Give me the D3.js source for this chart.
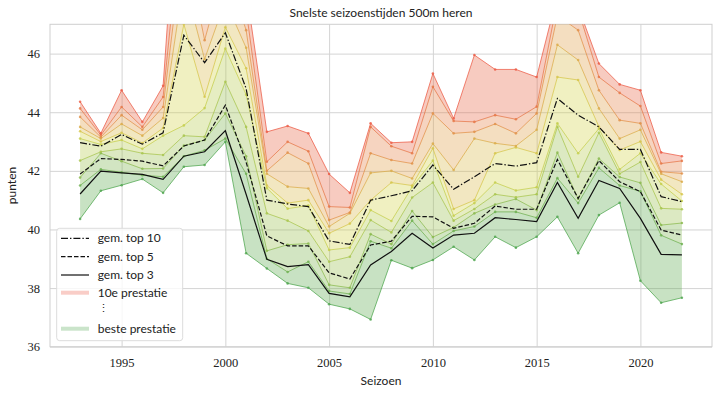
<!DOCTYPE html>
<html>
<head>
<meta charset="utf-8">
<script src="https://cdn.jsdelivr.net/npm/d3@7"></script>
<style>
  body { margin: 0; background: #fff; }
  svg text { fill: #222; }
  .lbl { font-family: Lato, sans-serif; font-size: 12px; }
</style>
</head>
<body>
<div id="chart"></div>
<script>
// seasons
var years = d3.range(1993, 2023);

// season times per rank, best (p1) .. 10th (p10)
var p1  = [40.36,41.32,41.51,41.72,41.25,42.14,42.20,42.99,39.19,38.67,38.16,38.01,37.45,37.29,36.93,38.95,38.68,38.96,39.41,38.96,39.75,39.38,39.75,40.43,39.19,40.49,40.91,38.25,37.50,37.67];
var p2  = [41.50,42.05,41.95,41.85,41.80,42.50,42.70,43.10,41.90,39.00,38.55,38.90,37.90,37.80,39.60,39.36,40.30,39.50,39.95,40.10,40.60,40.60,40.40,41.75,40.90,42.10,41.50,41.30,39.80,39.50];
var p3  = [41.77,42.60,42.33,42.07,42.08,42.86,43.05,43.96,42.50,39.27,39.48,39.52,38.11,38.01,39.84,39.50,40.63,39.74,40.07,40.55,40.85,41.04,40.66,42.62,41.05,42.42,41.79,41.59,40.15,40.22];
var p4  = [42.35,42.65,42.75,42.60,42.54,43.20,43.16,45.04,43.50,40.55,40.30,39.95,38.90,39.07,40.32,39.90,41.09,41.60,40.30,40.70,41.20,41.10,41.20,43.50,41.80,43.30,41.90,42.30,40.72,40.69];
var p5  = [43.10,42.90,43.05,42.75,43.20,43.55,44.14,46.17,44.60,41.41,40.71,40.82,39.30,39.38,40.66,40.29,41.45,42.35,40.47,40.90,41.60,41.33,41.44,43.62,42.60,43.44,42.05,42.60,41.55,40.97];
var p6  = [43.35,43.00,43.30,42.95,43.46,47.00,44.53,46.90,45.50,41.50,40.90,41.00,39.87,40.20,41.00,41.60,41.50,42.77,40.70,41.00,42.60,42.80,42.60,45.20,45.10,43.51,42.71,43.00,41.70,41.20];
var p7  = [43.50,43.10,43.60,43.20,43.80,48.50,45.81,47.80,46.20,41.90,41.46,41.40,40.10,40.55,41.93,42.00,41.74,42.93,42.03,43.10,42.94,42.85,43.40,46.30,45.78,44.13,43.10,43.40,41.90,41.63];
var p8  = [43.84,43.15,43.90,43.40,44.18,50.00,46.46,49.00,46.80,42.00,42.62,42.25,40.32,40.58,42.60,42.37,42.25,43.96,43.28,43.33,43.60,43.28,43.96,47.30,46.80,44.75,43.73,43.62,41.97,41.91];
var p9  = [44.13,43.22,44.18,43.50,44.52,51.50,51.00,50.50,47.50,42.31,42.99,42.67,40.78,40.75,43.50,42.84,42.60,44.87,43.70,43.67,43.90,43.76,44.19,47.80,47.50,45.20,44.66,44.21,42.25,42.34];
var p10 = [44.36,43.28,44.75,43.67,44.90,55.05,53.85,51.70,48.20,43.33,43.53,43.28,41.89,41.25,43.62,42.96,42.99,45.32,43.79,45.95,45.46,45.46,45.20,48.00,47.60,45.66,44.95,44.75,42.63,42.50];
var ranks = [p1, p2, p3, p4, p5, p6, p7, p8, p9, p10];

// averages of the top 10 / 5 / 3
var top10 = [42.96,42.84,43.24,42.91,43.30,46.63,45.69,46.71,44.81,41.00,40.87,40.78,39.61,39.49,41.00,41.15,41.32,42.20,41.37,41.80,42.25,42.16,42.28,44.47,43.90,43.50,42.73,42.73,41.12,40.95];
var top5  = [41.89,42.42,42.39,42.33,42.17,42.85,43.05,44.24,42.30,39.78,39.44,39.44,38.52,38.31,39.47,39.60,40.45,40.43,40.04,40.21,40.80,40.69,40.69,42.39,41.06,42.35,41.63,41.29,39.98,39.81];
var top3  = [41.21,41.99,41.93,41.88,41.71,42.50,42.65,43.37,41.20,38.98,38.73,38.80,37.82,37.70,38.79,39.25,39.87,39.37,39.81,39.87,40.40,40.34,40.27,41.60,40.38,41.67,41.40,40.38,39.15,39.13];

var xTicks = [1995, 2000, 2005, 2010, 2015, 2020];
var yTicks = [36, 38, 40, 42, 44, 46];

var W = 720, H = 396;
var margin = { top: 24.3, right: 8, bottom: 49.3, left: 50 };
var width = W - margin.left - margin.right;
var height = H - margin.top - margin.bottom;

var svg = d3.select("#chart").append("svg")
  .attr("width", W)
  .attr("height", H);

var g = svg.append("g")
  .attr("transform", "translate(" + margin.left + "," + margin.top + ")");

var x = d3.scaleLinear()
  .domain([1993 - 1.45, 2022 + 1.45])
  .range([0, width]);

var y = d3.scaleLinear()
  .domain([36, 47])
  .range([height, 0]);

// green (best) -> yellow -> red (10th)
var colour = d3.scaleLinear()
  .domain([0, 4.5, 9])
  .range(["#4ea54e", "#d3d34a", "#ec5a44"])
  .interpolate(d3.interpolateRgb);

// grid
var xAxis = d3.axisBottom(x).tickValues(xTicks).tickFormat(d3.format("d")).tickSize(-height).tickPadding(11);
var yAxis = d3.axisLeft(y).tickValues(yTicks).tickSize(-width).tickPadding(10);

var gx = g.append("g")
  .attr("transform", "translate(0," + height + ")")
  .call(xAxis);
var gy = g.append("g").call(yAxis);
[gx, gy].forEach(function(a) {
  a.select(".domain").remove();
  a.selectAll(".tick line").attr("stroke", "#d4d4d4").attr("stroke-width", 1);
  a.selectAll(".tick text")
    .attr("font-family", "'Liberation Serif', 'DejaVu Serif', serif")
    .attr("font-size", 12.5)
    .attr("fill", "#333");
});

g.append("rect")
  .attr("width", width)
  .attr("height", height)
  .attr("fill", "none")
  .attr("stroke", "#cfcfcf")
  .attr("stroke-width", 1);

g.append("clipPath").attr("id", "plotclip")
  .append("rect").attr("width", width).attr("height", height);

var plot = g.append("g").attr("clip-path", "url(#plotclip)");

// bands between consecutive ranks
for (var i = 0; i < 9; i++) {
  var lo = ranks[i], hi = ranks[i + 1];
  var area = d3.area()
    .x(function(d, j) { return x(years[j]); })
    .y0(function(d, j) { return y(lo[j]); })
    .y1(function(d, j) { return y(hi[j]); });
  plot.append("path")
    .datum(years)
    .attr("d", area)
    .attr("fill", colour(i + 0.5))
    .attr("fill-opacity", 0.34);
}

// rank lines + small markers
ranks.forEach(function(r, i) {
  var line = d3.line()
    .x(function(d, j) { return x(years[j]); })
    .y(function(d) { return y(d); });
  plot.append("path")
    .datum(r)
    .attr("d", line)
    .attr("fill", "none")
    .attr("stroke", colour(i))
    .attr("stroke-opacity", 0.75)
    .attr("stroke-width", 1);
  plot.selectAll(null)
    .data(r)
    .enter()
    .append("circle")
    .attr("cx", function(d, j) { return x(years[j]); })
    .attr("cy", function(d) { return y(d); })
    .attr("r", 1.3)
    .attr("fill", colour(i))
    .attr("fill-opacity", 0.8);
});

// average lines
var avgLines = [
  { data: top10, dash: "7,2,1.4,2", label: "gem. top 10" },
  { data: top5, dash: "4.5,2", label: "gem. top 5" },
  { data: top3, dash: null, label: "gem. top 3" }
];
var avgLine = d3.line()
  .x(function(d, j) { return x(years[j]); })
  .y(function(d) { return y(d); });
avgLines.forEach(function(a) {
  plot.append("path")
    .datum(a.data)
    .attr("d", avgLine)
    .attr("fill", "none")
    .attr("stroke", "#111")
    .attr("stroke-width", 1.2)
    .attr("stroke-dasharray", a.dash);
});

// legend
var lg = g.append("g").attr("transform", "translate(6.7,204)");
lg.append("rect")
  .attr("width", 126)
  .attr("height", 112.4)
  .attr("rx", 3)
  .attr("fill", "#fff")
  .attr("fill-opacity", 0.8)
  .attr("stroke", "#dcdcdc");

var rows = [
  { y: 10, dash: "7,2,1.4,2", col: "#111", w: 1.2, op: 1, label: "gem. top 10" },
  { y: 28.4, dash: "4.5,2", col: "#111", w: 1.2, op: 1, label: "gem. top 5" },
  { y: 46.7, dash: null, col: "#111", w: 1.2, op: 1, label: "gem. top 3" },
  { y: 64.4, dash: null, col: colour(9), w: 4, op: 0.3, label: "10e prestatie" },
  { y: 100.4, dash: null, col: colour(0), w: 4, op: 0.3, label: "beste prestatie" }
];
rows.forEach(function(r) {
  lg.append("line")
    .attr("x1", 4.3).attr("x2", 32.3)
    .attr("y1", r.y).attr("y2", r.y)
    .attr("stroke", r.col)
    .attr("stroke-opacity", r.op)
    .attr("stroke-width", r.w)
    .attr("stroke-dasharray", r.dash);
  lg.append("text")
    .attr("class", "lbl")
    .attr("x", 41)
    .attr("y", r.y + 4)
    .text(r.label);
});
lg.append("text")
  .attr("class", "lbl")
  .attr("x", 41)
  .attr("y", 84)
  .style("font-size", "11px")
  .text("⋮");

// title and axis labels
svg.append("text")
  .attr("class", "lbl")
  .attr("x", margin.left + width / 2)
  .attr("y", 17)
  .attr("text-anchor", "middle")
  .text("Snelste seizoenstijden 500m heren");

svg.append("text")
  .attr("class", "lbl")
  .attr("x", margin.left + width / 2)
  .attr("y", 385)
  .attr("text-anchor", "middle")
  .text("Seizoen");

svg.append("text")
  .attr("class", "lbl")
  .attr("transform", "translate(16," + (margin.top + height / 2) + ") rotate(-90)")
  .attr("text-anchor", "middle")
  .text("punten");
</script>
</body>
</html>
